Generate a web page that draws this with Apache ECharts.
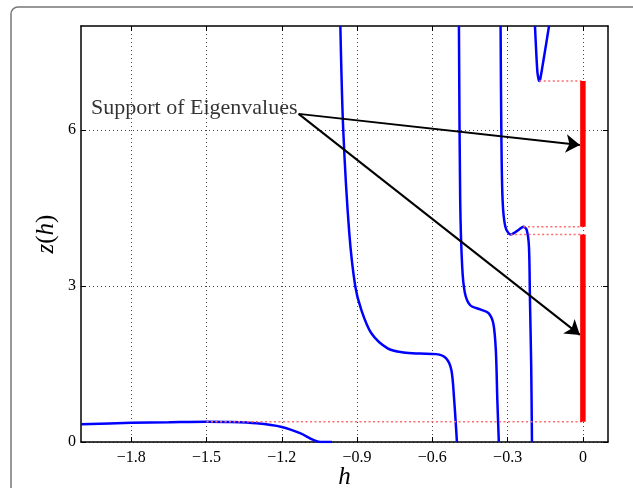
<!DOCTYPE html>
<html>
<head>
<meta charset="utf-8">
<script src="https://cdn.jsdelivr.net/npm/echarts@6/dist/echarts.min.js"></script>
<style>
  html, body { margin: 0; padding: 0; background: #fff; }
  #chart { width: 633px; height: 488px; }
</style>
</head>
<body>
<div id="chart"></div>
<script>
// ticks
var xTicks = [-1.8, -1.5, -1.2, -0.9, -0.6, -0.3, 0];
var yTicks = [0, 3, 6];

// branches of z(h)
var branchA = [[-2, 0.34], [-1.8, 0.37], [-1.65, 0.38], [-1.5, 0.39], [-1.4, 0.385], [-1.3, 0.36],
  [-1.2, 0.29], [-1.127, 0.17], [-1.074, 0.04], [-1.048, 0], [-1.0, 0]];
var branchB = [[-0.9665, 8], [-0.955, 6], [-0.931, 4.02], [-0.907, 2.99], [-0.883, 2.54],
  [-0.843, 2.09], [-0.778, 1.80], [-0.714, 1.72], [-0.65, 1.70], [-0.585, 1.69], [-0.545, 1.61],
  [-0.524, 1.38], [-0.513, 0.81], [-0.502, 0]];
var branchC = [[-0.494, 8], [-0.489, 4.65], [-0.481, 3.37], [-0.470, 2.86], [-0.449, 2.63],
  [-0.409, 2.55], [-0.376, 2.48], [-0.357, 2.28], [-0.347, 1.77], [-0.341, 0.81], [-0.335, 0]];
var branchD = [[-0.328, 8], [-0.325, 5.94], [-0.320, 4.65], [-0.309, 4.14], [-0.288, 3.99],
  [-0.256, 4.08], [-0.237, 4.14], [-0.224, 4.08], [-0.215, 3.76], [-0.211, 2.73], [-0.206, 1.45],
  [-0.203, 0]];
var branchE = [[-0.191, 8], [-0.186, 7.5], [-0.181, 7.1], [-0.176, 6.96], [-0.174, 6.94],
  [-0.170, 6.98], [-0.162, 7.2], [-0.150, 7.55], [-0.140, 7.85], [-0.135, 8]];

// support edges: [h where the dotted line starts, z level]
var edges = [[-1.5, 0.39], [-0.288, 3.99], [-0.237, 4.14], [-0.174, 6.94]];
// support intervals on z axis at h = 0
var support = [[0.39, 3.99], [4.14, 6.94]];

// annotation
var noteText = 'Support of Eigenvalues';
var notePos = [-1.96, 6.42];
var arrowFrom = [-1.133, 6.31];
var arrowTo = [[-0.012, 5.71], [-0.012, 2.06]];

var serif = 'Liberation Serif';
var chart = echarts.init(document.getElementById('chart'));

function fmt(v) {
  return String(v).replace('-', '\u2212');
}

var series = [];
[branchA, branchB, branchC, branchD, branchE].forEach(function (b) {
  series.push({
    type: 'line', data: b, showSymbol: false, smooth: 0.3,
    lineStyle: { color: '#0000ff', width: 2.5 }, silent: true
  });
});
edges.forEach(function (e) {
  series.push({
    type: 'line', data: [[e[0], e[1]], [0, e[1]]], showSymbol: false,
    lineStyle: { color: '#ff6a6a', width: 1.5, type: [2, 2.5] }, silent: true
  });
});
support.forEach(function (s) {
  series.push({
    type: 'line', data: [[0, s[0]], [0, s[1]]], showSymbol: false,
    lineStyle: { color: '#ff0000', width: 5.5, cap: 'butt' }, silent: true
  });
});
series.push({
  type: 'line', data: [], silent: true,
  markLine: {
    silent: true, animation: false,
    symbol: ['none', 'arrow'], symbolSize: 14,
    label: { show: false },
    lineStyle: { color: '#000', width: 2, type: 'solid' },
    data: arrowTo.map(function (t) { return [{ coord: arrowFrom }, { coord: t }]; })
  }
});
series.push({
  type: 'scatter', data: [notePos], symbolSize: 0, silent: true,
  label: {
    show: true, position: 'right', distance: 0, formatter: noteText,
    fontFamily: serif, fontSize: 22, color: '#000'
  }
});

var axisLineStyle = { onZero: false, lineStyle: { color: '#000', width: 1.5 } };
var splitStyle = { show: true, lineStyle: { color: '#444', width: 1, type: [1, 3] } };

chart.setOption({
  animation: false,
  graphic: [{
    type: 'rect', shape: { x: 11, y: 7, width: 640, height: 500, r: 7 },
    style: { fill: 'none', stroke: '#777', lineWidth: 1.5 }, silent: true
  }],
  grid: { left: 81, right: 25, top: 26, bottom: 46, containLabel: false, outerBoundsMode: 'none' },
  xAxis: [{
    type: 'value', min: -2, max: 0.1, position: 'bottom',
    name: 'h', nameLocation: 'middle', nameGap: 23, nameMoveOverlap: false,
    nameTextStyle: { fontFamily: serif, fontStyle: 'italic', fontSize: 25, color: '#000' },
    axisLine: axisLineStyle,
    axisTick: { inside: true, length: 5, customValues: xTicks, lineStyle: { color: '#000' } },
    axisLabel: { customValues: xTicks, formatter: fmt, fontFamily: serif, fontSize: 16, color: '#000', margin: 8 },
    splitLine: splitStyle
  }, {
    type: 'value', min: -2, max: 0.1, position: 'top',
    axisLine: axisLineStyle,
    axisTick: { inside: true, length: 5, customValues: xTicks, lineStyle: { color: '#000' } },
    axisLabel: { show: false },
    splitLine: { show: false }
  }],
  yAxis: [{
    type: 'value', min: 0, max: 8, position: 'left',
    name: '{i|z}({i|h})', nameLocation: 'middle', nameGap: 22, nameMoveOverlap: false,
    nameTextStyle: {
      fontFamily: serif, fontSize: 25, color: '#000',
      rich: { i: { fontFamily: serif, fontStyle: 'italic', fontSize: 25, color: '#000' } }
    },
    axisLine: axisLineStyle,
    axisTick: { inside: true, length: 5, customValues: yTicks, lineStyle: { color: '#000' } },
    axisLabel: { customValues: yTicks, formatter: fmt, fontFamily: serif, fontSize: 16, color: '#000', margin: 5 },
    splitLine: splitStyle
  }, {
    type: 'value', min: 0, max: 8, position: 'right',
    axisLine: axisLineStyle,
    axisTick: { inside: true, length: 5, customValues: yTicks, lineStyle: { color: '#000' } },
    axisLabel: { show: false },
    splitLine: { show: false }
  }],
  series: series
});
</script>
</body>
</html>
